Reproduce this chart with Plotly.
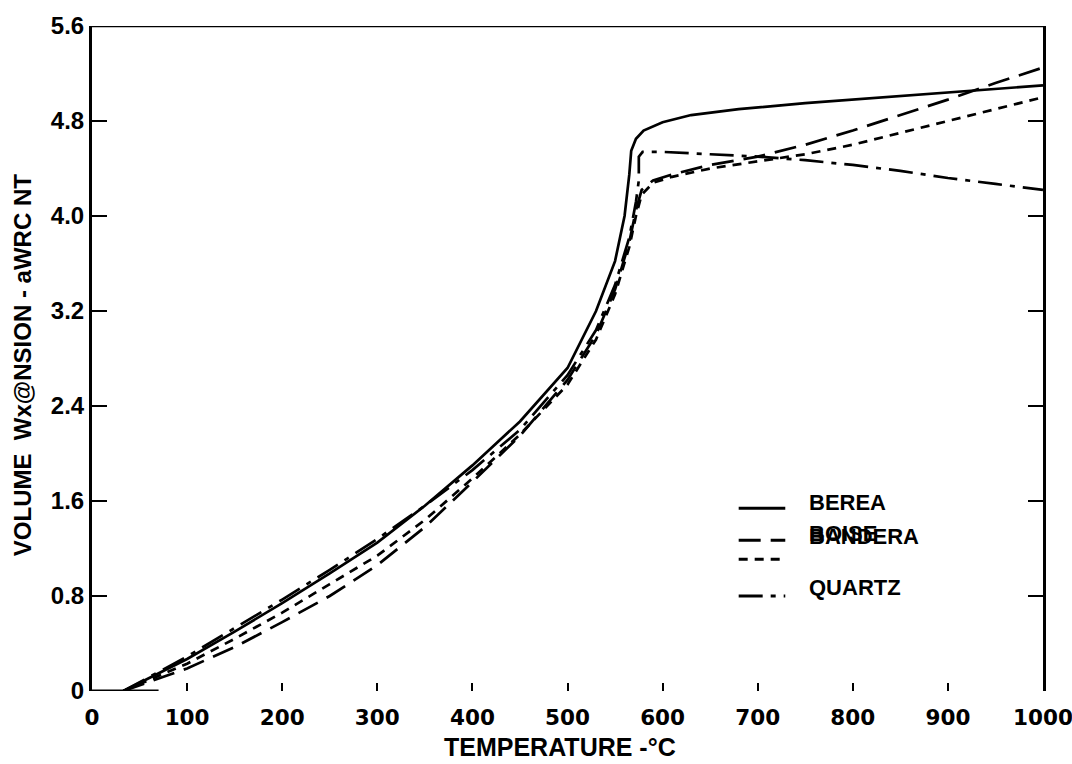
import plotly.graph_objects as go

# Volume expansion (percent) versus temperature (deg C) for three sandstones and quartz
T_BEREA = [33, 100, 150, 200, 250, 300, 350, 400, 450, 500, 530, 550, 560, 565, 567, 572, 580, 600, 630, 680, 750, 850, 930, 1000]
V_BEREA = [0, 0.27, 0.50, 0.74, 0.99, 1.25, 1.56, 1.90, 2.27, 2.72, 3.20, 3.62, 4.00, 4.35, 4.55, 4.65, 4.72, 4.79, 4.85, 4.90, 4.95, 5.01, 5.06, 5.10]

T_BANDERA = [33, 100, 150, 200, 250, 300, 350, 400, 450, 500, 530, 550, 565, 572, 578, 590, 610, 650, 700, 750, 800, 850, 900, 950, 1000]
V_BANDERA = [0, 0.19, 0.37, 0.58, 0.80, 1.06, 1.38, 1.76, 2.15, 2.62, 3.00, 3.38, 3.78, 4.05, 4.22, 4.30, 4.35, 4.43, 4.50, 4.60, 4.72, 4.85, 4.98, 5.12, 5.25]

T_BOISE = [33, 100, 150, 200, 250, 300, 350, 400, 450, 500, 530, 550, 565, 572, 578, 590, 610, 650, 700, 750, 800, 850, 900, 950, 1000]
V_BOISE = [0, 0.23, 0.44, 0.66, 0.90, 1.14, 1.44, 1.79, 2.16, 2.58, 2.96, 3.34, 3.74, 4.00, 4.18, 4.28, 4.33, 4.40, 4.46, 4.52, 4.60, 4.70, 4.80, 4.90, 5.00]

T_QUARTZ = [33, 100, 150, 200, 250, 300, 350, 400, 450, 500, 530, 550, 565, 572, 575, 575, 579, 600, 650, 700, 750, 800, 850, 900, 950, 1000]
V_QUARTZ = [0, 0.29, 0.53, 0.77, 1.02, 1.28, 1.56, 1.86, 2.20, 2.66, 3.04, 3.42, 3.82, 4.12, 4.30, 4.50, 4.54, 4.54, 4.52, 4.50, 4.47, 4.43, 4.38, 4.32, 4.27, 4.22]

X_TICKS = [0, 100, 200, 300, 400, 500, 600, 700, 800, 900, 1000]
X_TICK_TEXT = ["0", "100", "200", "300", "400", "500", "600", "700", "800", "900", "1000"]
Y_TICKS = [0, 0.8, 1.6, 2.4, 3.2, 4.0, 4.8, 5.6]
Y_TICK_TEXT = ["0", "0.8", "1.6", "2.4", "3.2", "4.0", "4.8", "5.6"]

SERIES = [
    ("BEREA", T_BEREA, V_BEREA, "solid"),
    ("BANDERA", T_BANDERA, V_BANDERA, "22px,10px"),
    ("BOISE", T_BOISE, V_BOISE, "9px,7px"),
    ("QUARTZ", T_QUARTZ, V_QUARTZ, "24px,8px,5px,8px"),
]

INK = "#000000"
TEXT_FONT = dict(family="Liberation Sans, Arial, sans-serif", size=22, color=INK, weight="bold")

fig = go.Figure()
for name, t, v, dash in SERIES:
    fig.add_trace(go.Scatter(
        x=t, y=v, mode="lines", name=name,
        line=dict(color=INK, width=2.7, dash=dash),
        showlegend=False, hoverinfo="skip",
    ))

# Frame: top rule, short piece of the baseline near the origin
fig.add_shape(type="line", xref="x", yref="y", x0=0, x1=1004, y0=5.6, y1=5.6,
              line=dict(color=INK, width=2.5))
fig.add_shape(type="line", xref="x", yref="y", x0=0, x1=70, y0=0, y1=0,
              line=dict(color=INK, width=3))

# Key: line samples with their labels
KEY_X0, KEY_X1, KEY_TEXT_X = 680, 729, 752
key_rows = [
    (1.54, "solid"),
    (1.27, "22px,10px"),
    (1.11, "9px,7px"),
    (0.80, "24px,8px,5px,8px"),
]
for yk, dash in key_rows:
    fig.add_shape(type="line", xref="x", yref="y", x0=KEY_X0, x1=KEY_X1, y0=yk, y1=yk,
                  line=dict(color=INK, width=3, dash=dash))
for label, yk in [("BEREA", 1.59), ("BANDERA", 1.30), ("BOISE", 1.33), ("QUARTZ", 0.87)]:
    fig.add_annotation(x=KEY_TEXT_X, y=yk, xref="x", yref="y", text=label, showarrow=False,
                       xanchor="left", yanchor="middle", font=TEXT_FONT)

# Axis titles
fig.add_annotation(x=0.492, y=0, xref="paper", yref="paper", yshift=-56,
                   text="TEMPERATURE -°C", showarrow=False, xanchor="center", yanchor="middle",
                   font=dict(family="Liberation Sans Narrow, Liberation Sans, Arial", size=25,
                             color=INK, weight="bold"))
fig.add_annotation(x=0, y=0.49, xref="paper", yref="paper", xshift=-70,
                   text="VOLUME  Wx@NSION - aWRC NT", showarrow=False, textangle=-90,
                   xanchor="center", yanchor="middle",
                   font=dict(family="Liberation Sans, Arial", size=24, color=INK, weight="bold"))

fig.update_xaxes(
    range=[0, 1000], tickvals=X_TICKS, ticktext=X_TICK_TEXT,
    ticks="inside", ticklen=8, tickwidth=1.5, tickcolor=INK,
    showline=False, showgrid=False, zeroline=False,
    ticklabelstandoff=11, ticklabeloverflow="allow",
    tickfont=dict(family="DejaVu Sans, sans-serif", size=21.5, color=INK, weight="bold"),
)
fig.update_yaxes(
    range=[0, 5.6], tickvals=Y_TICKS, ticktext=Y_TICK_TEXT,
    ticks="inside", ticklen=15, tickwidth=2, tickcolor=INK,
    showline=True, linewidth=3, linecolor=INK, mirror="ticks",
    showgrid=False, zeroline=False, ticklabelstandoff=0,
    tickfont=dict(family="Liberation Sans, Arial, sans-serif", size=24, color=INK, weight="bold"),
)

fig.update_layout(
    width=1072, height=764,
    margin=dict(l=92, r=29, t=26, b=73, autoexpand=False),
    paper_bgcolor="white", plot_bgcolor="white",
    showlegend=False,
)

fig.write_html("out.html")
